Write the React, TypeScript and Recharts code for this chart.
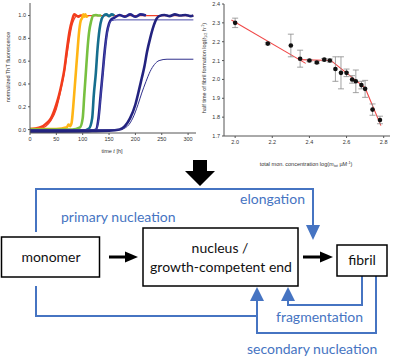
import {
  ComposedChart, Line, Scatter, ErrorBar, XAxis, YAxis,
} from 'recharts';

// ThT kinetics: [time h, normalized fluorescence]
const redData: [number, number][] = [
  [0, 0.005], [10, 0.01], [20, 0.02], [30, 0.05], [40, 0.1], [50, 0.22], [55, 0.3],
  [60, 0.4], [65, 0.52], [70, 0.7], [75, 0.86], [80, 0.96], [84, 1.01], [88, 1.0],
  [92, 0.99], [96, 1.0], [100, 1.0],
];
const redFit: [number, number][] = [
  [0, 0.0], [20, 0.01], [30, 0.03], [40, 0.08], [50, 0.18], [60, 0.38], [65, 0.5],
  [70, 0.65], [75, 0.8], [80, 0.92], [85, 0.98], [90, 1.0], [310, 1.0],
];
const orangeData: [number, number][] = [
  [0, 0.005], [40, 0.005], [60, 0.01], [70, 0.02], [73, 0.045], [76, 0.03], [79, 0.06],
  [82, 0.2], [85, 0.38], [87, 0.5], [90, 0.68], [93, 0.85], [96, 0.95], [99, 0.98],
  [101, 1.01], [103, 0.99], [105, 1.01], [107, 0.99], [110, 1.0],
];
const greenData: [number, number][] = [
  [0, 0.0], [80, 0.0], [95, 0.02], [100, 0.1], [103, 0.3], [106, 0.5], [109, 0.7],
  [112, 0.85], [116, 0.95], [120, 1.0], [125, 1.005], [130, 1.0], [135, 1.0],
];
const tealData: [number, number][] = [
  [0, -0.01], [100, -0.01], [112, 0.01], [118, 0.1], [121, 0.3], [125, 0.5], [128, 0.7],
  [132, 0.88], [136, 0.97], [140, 1.0], [145, 1.01], [150, 0.995], [155, 1.01], [160, 1.0],
];
const navyData: [number, number][] = [
  [0, -0.02], [110, -0.015], [125, 0.0], [130, 0.1], [134, 0.3], [138, 0.5], [142, 0.7],
  [146, 0.85], [150, 0.93], [155, 0.97], [160, 0.98], [170, 1.005], [180, 0.99],
  [190, 1.01], [200, 0.99], [210, 1.01], [220, 1.0],
];
const navyFit: [number, number][] = [
  [0, -0.01], [125, 0.0], [130, 0.08], [134, 0.28], [138, 0.48], [142, 0.68], [146, 0.83],
  [150, 0.92], [155, 0.955], [165, 0.962], [310, 0.962],
];
const darkData: [number, number][] = [
  [0, -0.01], [100, -0.015], [150, -0.01], [170, 0.0], [180, 0.03], [190, 0.1], [200, 0.22],
  [207, 0.35], [212, 0.45], [217, 0.55], [222, 0.68], [228, 0.8], [234, 0.9], [240, 0.97],
  [245, 0.995], [255, 1.005], [265, 0.995], [275, 1.01], [285, 1.0], [295, 1.005], [305, 0.995],
  [310, 1.0],
];
const darkFit: [number, number][] = [
  [0, 0.0], [170, 0.0], [185, 0.03], [195, 0.1], [205, 0.22], [212, 0.32], [220, 0.42],
  [228, 0.51], [236, 0.57], [245, 0.605], [260, 0.617], [310, 0.617],
];
const timeTicks = [0, 50, 100, 150, 200, 250, 300];
const fluoTicks = [0, 0.2, 0.4, 0.6, 0.8, 1.0];

// half time vs concentration
const logConc = [2.0, 2.176, 2.3, 2.35, 2.4, 2.44, 2.48, 2.51, 2.54, 2.57, 2.6, 2.63, 2.65, 2.68, 2.7, 2.74, 2.78];
const logHalf = [2.3, 2.19, 2.18, 2.11, 2.1, 2.09, 2.105, 2.1, 2.055, 2.035, 2.035, 2.0, 1.99, 1.97, 1.95, 1.84, 1.785];
const halfErr = [0.025, 0.006, 0.06, 0.045, 0.006, 0.006, 0.006, 0.008, 0.065, 0.085, 0.02, 0.02, 0.06, 0.02, 0.045, 0.03, 0.02];
const fit1: [number, number][] = [[1.98, 2.315], [2.38, 2.085]];
const fit2: [number, number][] = [[2.34, 2.105], [2.52, 2.1]];
const fit3: [number, number][] = [[2.51, 2.105], [2.7, 1.955], [2.785, 1.755]];
const concTicks = [2.0, 2.2, 2.4, 2.6, 2.8];
const halfTicks = [1.7, 1.8, 1.9, 2.0, 2.1, 2.2, 2.3, 2.4];

const toRows = (pts: [number, number][]) => pts.map(([x, v]) => ({ x, v }));
const halfRows = logConc.map((x, i) => ({ x, v: logHalf[i], err: halfErr[i] }));

const FONT = '"Liberation Sans", Arial, sans-serif';
const tickStyle = { fontSize: 5.5, fill: '#333', fontFamily: FONT };
const BLUE = '#4674c2';

const kinetics = [
  { d: redFit, c: '#f0402a', w: 1.2 },
  { d: redData, c: '#f23c1c', w: 2.6 },
  { d: orangeData, c: '#ffb515', w: 2.6 },
  { d: greenData, c: '#78c040', w: 2.6 },
  { d: tealData, c: '#166e8e', w: 2.6 },
  { d: navyData, c: '#24248c', w: 2.6 },
  { d: navyFit, c: '#4848a8', w: 1 },
  { d: darkData, c: '#23237f', w: 2.6 },
  { d: darkFit, c: '#30308c', w: 1 },
];

function KineticsChart() {
  return (
    <ComposedChart width={200} height={170} margin={{ top: 3, right: 4, bottom: 14, left: 0 }}>
      <XAxis xAxisId="b" dataKey="x" type="number" domain={[0, 315]} ticks={timeTicks}
        tick={tickStyle} tickSize={2} height={23} stroke="#555" allowDataOverflow />
      <XAxis xAxisId="t" orientation="top" dataKey="x" type="number" domain={[0, 315]} ticks={timeTicks}
        tick={false} tickSize={2} mirror height={0} stroke="#555" />
      <YAxis yAxisId="l" type="number" domain={[-0.03, 1.11]} ticks={fluoTicks}
        tickFormatter={(v: number) => v.toFixed(1)} tick={tickStyle} tickSize={2} width={30} stroke="#555" allowDataOverflow />
      <YAxis yAxisId="r" orientation="right" type="number" domain={[-0.03, 1.11]} ticks={fluoTicks}
        tick={false} tickSize={2} mirror width={0} stroke="#555" />
      {kinetics.map((k, i) => (
        <Line key={i} xAxisId="b" yAxisId="l" data={toRows(k.d)} dataKey="v" type="monotone"
          stroke={k.c} strokeWidth={k.w} dot={false} isAnimationActive={false} />
      ))}
    </ComposedChart>
  );
}

function HalfTimeChart() {
  return (
    <ComposedChart width={199} height={175} margin={{ top: 4, right: 4, bottom: 14, left: 0 }}>
      <XAxis xAxisId="b" dataKey="x" type="number" domain={[1.94, 2.834]} ticks={concTicks}
        tickFormatter={(v: number) => v.toFixed(1)} tick={tickStyle} tickSize={2} height={25} stroke="#555" allowDataOverflow />
      <XAxis xAxisId="t" orientation="top" dataKey="x" type="number" domain={[1.94, 2.834]} ticks={concTicks}
        tick={false} tickSize={2} mirror height={0} stroke="#555" />
      <YAxis yAxisId="l" type="number" domain={[1.7, 2.4]} ticks={halfTicks}
        tickFormatter={(v: number) => v.toFixed(1)} tick={tickStyle} tickSize={2} width={29} stroke="#555" allowDataOverflow />
      <YAxis yAxisId="r" orientation="right" type="number" domain={[1.7, 2.4]} ticks={halfTicks}
        tick={false} tickSize={2} mirror width={0} stroke="#555" />
      {[fit1, fit2, fit3].map((f, i) => (
        <Line key={i} xAxisId="b" yAxisId="l" data={toRows(f)} dataKey="v" type="linear"
          stroke="#f04848" strokeWidth={1.1} dot={false} isAnimationActive={false} />
      ))}
      <Scatter xAxisId="b" yAxisId="l" data={halfRows} dataKey="v" fill="#111"
        shape={(p: any) => <circle cx={p.cx} cy={p.cy} r={2.3} fill="#111" />}
        isAnimationActive={false}>
        <ErrorBar dataKey="err" direction="y" width={3} stroke="#8a8a8a" strokeWidth={0.8} />
      </Scatter>
    </ComposedChart>
  );
}

function Scheme() {
  const txt = { fontFamily: 'Lato, "Open Sans", sans-serif', fontSize: 14 };
  return (
    <svg width={394} height={358} style={{ position: 'absolute', left: 0, top: 0, pointerEvents: 'none' }}>
      {/* axis titles of the two plots */}
      <text x={9} y={67} transform="rotate(-90 9 67)" textAnchor="middle" dominantBaseline="middle"
        style={{ fontFamily: FONT, fontSize: 5.5, fill: '#333' }}>normalized ThT fluorescence</text>
      <text x={112} y={153} textAnchor="middle" style={{ fontFamily: FONT, fontSize: 5.5, fill: '#333' }}>
        time <tspan fontStyle="italic">t</tspan> [h]
      </text>
      <text x={205} y={68} transform="rotate(-90 205 68)" textAnchor="middle" dominantBaseline="middle"
        style={{ fontFamily: FONT, fontSize: 5.5, fill: '#333' }}>
        half time of fibril formation log(<tspan fontStyle="italic">t</tspan>
        <tspan fontSize={3.8} dy={1.2}>1/2</tspan><tspan dy={-1.2}> h</tspan>
        <tspan fontSize={3.8} dy={-2}>-1</tspan><tspan dy={2}>)</tspan>
      </text>
      <text x={306} y={166} textAnchor="middle" style={{ fontFamily: FONT, fontSize: 5.5, fill: '#333' }}>
        total mon. concentration log(<tspan fontStyle="italic">m</tspan>
        <tspan fontSize={3.8} dy={1.2}>tot</tspan><tspan dy={-1.2}> µM</tspan>
        <tspan fontSize={3.8} dy={-2}>-1</tspan><tspan dy={2}>)</tspan>
      </text>

      {/* big arrow */}
      <polygon points="193,160 207,160 207,171 215,171 200,186 185,171 193,171" fill="#000" />

      {/* blue pathways */}
      <g fill="none" stroke={BLUE} strokeWidth={2}>
        <path d="M36 232 V189 H313 V226" />
        <path d="M36 286 V316 H257" />
        <path d="M376 276 V333 H257 V300" />
        <path d="M362 276 V305 H288 V300" />
      </g>
      <g fill={BLUE}>
        <polygon points="306,225 320,225 313,240" />
        <polygon points="250,301 264,301 257,287" />
        <polygon points="281,301 295,301 288,287" />
      </g>

      {/* boxes */}
      <g fill="#fff" stroke="#000" strokeWidth={1.5}>
        <rect x={1.5} y={237} width={98} height={40} />
        <rect x={143} y={228} width={155} height={58} />
        <rect x={337} y={245} width={50} height={31} />
      </g>
      <g fill="#000">
        <rect x={109} y={255.5} width={17} height={3} />
        <polygon points="125,251.5 138,257 125,262.5" />
        <rect x={303} y={255.5} width={18} height={3} />
        <polygon points="320,251.5 333,257 320,262.5" />
      </g>
      <g style={txt} fill="#111" textAnchor="middle">
        <text x={51} y={262}>monomer</text>
        <text x={220} y={253}>nucleus /</text>
        <text x={221} y={272}>growth-competent end</text>
        <text x={362} y={265}>fibril</text>
      </g>
      <g style={txt} fill={BLUE}>
        <text x={240} y={204}>elongation</text>
        <text x={61} y={222}>primary nucleation</text>
        <text x={276} y={322}>fragmentation</text>
        <text x={247} y={354}>secondary nucleation</text>
      </g>
    </svg>
  );
}

export default function App() {
  return (
    <div style={{ position: 'absolute', left: 0, top: 0, width: 394, height: 358, background: '#fff' }}>
      <div style={{ position: 'absolute', left: 0, top: 0 }}>
        <KineticsChart />
      </div>
      <div style={{ position: 'absolute', left: 195, top: 0 }}>
        <HalfTimeChart />
      </div>
      <Scheme />
    </div>
  );
}
